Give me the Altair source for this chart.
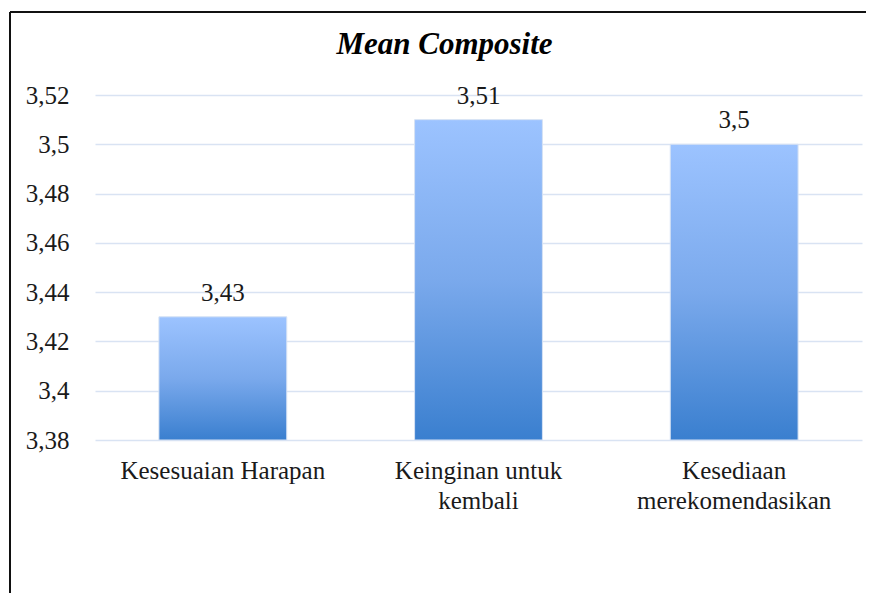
import altair as alt
import pandas as pd

categories = ["Kesesuaian Harapan", "Keinginan untuk kembali", "Kesediaan merekomendasikan"]
values = [3.43, 3.51, 3.50]
y_ticks = [3.38, 3.40, 3.42, 3.44, 3.46, 3.48, 3.50, 3.52]
title_text = "Mean Composite"

df = pd.DataFrame({"category": categories, "value": values})

FONT = "Liberation Serif"
TXT = "#1a1a1a"
FS = 25

x_label_expr = (
    "datum.label == 'Keinginan untuk kembali' ? ['Keinginan untuk', 'kembali'] : "
    "datum.label == 'Kesediaan merekomendasikan' ? ['Kesediaan', 'merekomendasikan'] : datum.label"
)

x_enc = alt.X(
    "category:N",
    sort=categories,
    scale=alt.Scale(paddingInner=0.5, paddingOuter=0.25),
    axis=alt.Axis(
        title=None, labelAngle=0, domain=False, ticks=False,
        labelFont=FONT, labelFontSize=FS, labelColor=TXT,
        labelPadding=18, labelLineHeight=30, labelBaseline="top",
        labelExpr=x_label_expr, labelLimit=400,
    ),
)
y_enc = alt.Y(
    "value:Q",
    scale=alt.Scale(domain=[3.38, 3.52], zero=False, nice=False),
    axis=alt.Axis(
        title=None, values=y_ticks, domain=False, ticks=False,
        labelFont=FONT, labelFontSize=FS, labelColor=TXT, labelPadding=26,
        labelExpr="replace(format(datum.value, '.2~f'), '.', ',')",
        grid=True, gridColor="#D9E3F3", gridWidth=1.3,
    ),
)

gradient = alt.Gradient(
    gradient="linear",
    stops=[alt.GradientStop(color="#9CC3FF", offset=0),
           alt.GradientStop(color="#7AA9EC", offset=0.5),
           alt.GradientStop(color="#3A7FCF", offset=1)],
    x1=0, x2=0, y1=0, y2=1,
)

bars = alt.Chart(df).mark_bar(color=gradient, stroke="#D6E2F4", strokeWidth=1).encode(
    x=x_enc, y=y_enc, y2=alt.datum(3.38)
)

text = alt.Chart(df).transform_calculate(
    label="replace(toString(datum.value), '.', ',')"
).mark_text(font=FONT, fontSize=FS, color=TXT, baseline="alphabetic", dy=-16).encode(
    x=alt.X("category:N", sort=categories), y=alt.Y("value:Q"), text="label:N"
)

frame_h = alt.Chart(alt.Data(values=[{}])).mark_rule(color="#111", strokeWidth=2).encode(
    x=alt.value(-85), x2=alt.value(900), y=alt.value(-83)
)
frame_v = alt.Chart(alt.Data(values=[{}])).mark_rule(color="#111", strokeWidth=2).encode(
    x=alt.value(-85), y=alt.value(-83), y2=alt.value(600)
)

chart = alt.layer(frame_h, frame_v, bars, text).properties(
    width=767,
    height=345,
    title=alt.TitleParams(
        title_text, font=FONT, fontSize=31, fontStyle="italic", fontWeight="bold",
        color="#000", anchor="middle", dx=-34, offset=-74, baseline="alphabetic",
    ),
    autosize=alt.AutoSizeParams(type="none"),
    padding={"left": 87, "top": 87, "right": 4, "bottom": 153},
).configure_view(stroke=None)

chart.save("out.html", embed_options={"renderer": "svg", "actions": False})
